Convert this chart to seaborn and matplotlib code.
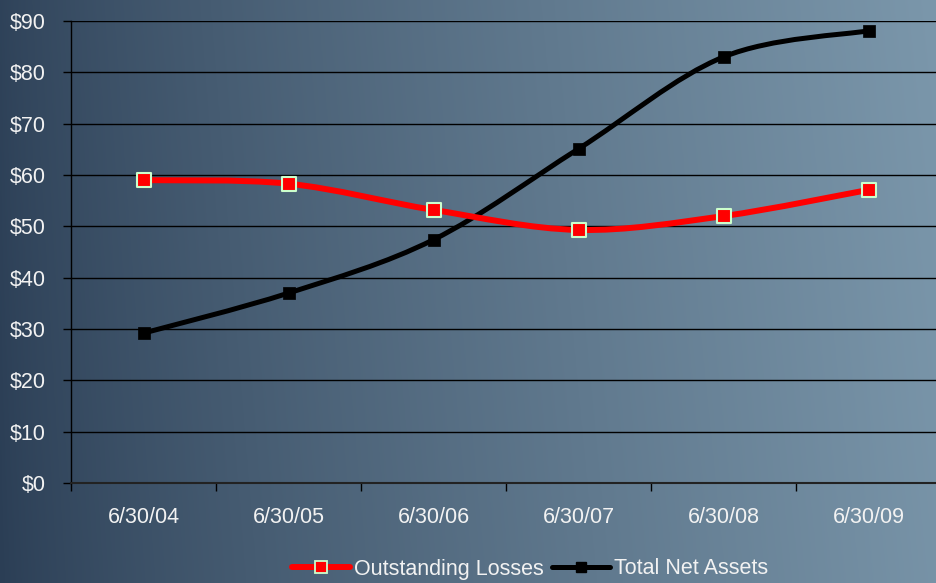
import numpy as np
import pandas as pd
import matplotlib
matplotlib.use("Agg")
import matplotlib.pyplot as plt
import seaborn as sns
from matplotlib.path import Path
from matplotlib.patches import PathPatch
from matplotlib.lines import Line2D
from matplotlib.colors import to_rgb

categories = ["6/30/04", "6/30/05", "6/30/06", "6/30/07", "6/30/08", "6/30/09"]
outstanding_losses = [59.0, 58.3, 53.2, 49.3, 52.0, 57.1]
total_net_assets = [29.2, 37.0, 47.4, 65.1, 83.0, 88.1]
y_ticks = [0, 10, 20, 30, 40, 50, 60, 70, 80, 90]
y_tick_labels = ["$" + str(v) for v in y_ticks]
series_names = ["Outstanding Losses", "Total Net Assets"]

sns.set_theme(style="white")
plt.rcParams["font.family"] = ["Liberation Sans", "DejaVu Sans"]

W, H = 937, 583
fig = plt.figure(figsize=(W / 100, H / 100), dpi=100)

# gradient background
bg = fig.add_axes([0, 0, 1, 1], zorder=-10)
c0 = np.array(to_rgb("#2b3e55"))
c1 = np.array(to_rgb("#7b97ab"))
xs = np.linspace(0, 1, 400)
ys = np.linspace(0, 1, 100)
X, Y = np.meshgrid(xs, ys)
t = np.clip(X ** 0.8 * 0.95 + (1 - Y) * 0.05, 0, 1)
img = c0[None, None, :] * (1 - t[..., None]) + c1[None, None, :] * t[..., None]
bg.imshow(img, aspect="auto", extent=[0, 1, 0, 1], origin="upper")
bg.set_axis_off()

left = 71 / W
right = 941 / W
bottom = 1 - 483 / H
top = 1 - 21 / H
ax = fig.add_axes([left, bottom, right - left, top - bottom])
ax.set_facecolor("none")

x = np.arange(len(categories))


def smooth_path(xv, yv):
    pts = np.column_stack([xv, yv]).astype(float)
    n = len(pts)
    verts = [pts[0]]
    codes = [Path.MOVETO]
    for i in range(n - 1):
        p0 = pts[i - 1] if i > 0 else pts[i]
        p1 = pts[i]
        p2 = pts[i + 1]
        p3 = pts[i + 2] if i + 2 < n else pts[i + 1]
        cp1 = p1 + (p2 - p0) / 6.0
        cp2 = p2 - (p3 - p1) / 6.0
        verts += [cp1, cp2, p2]
        codes += [Path.CURVE4] * 3
    return Path(verts, codes)


# Total Net Assets (black) drawn first, red on top
ax.add_patch(PathPatch(smooth_path(x, total_net_assets), fill=False,
                       edgecolor="black", lw=3.6, capstyle="round",
                       joinstyle="round", zorder=3))
ax.add_patch(PathPatch(smooth_path(x, outstanding_losses), fill=False,
                       edgecolor="#ff0000", lw=4.3, capstyle="round",
                       joinstyle="round", zorder=5))

df_b = pd.DataFrame({"x": x, "y": total_net_assets})
df_r = pd.DataFrame({"x": x, "y": outstanding_losses})
sns.scatterplot(data=df_b, x="x", y="y", ax=ax, marker="s", s=80,
                color="black", edgecolor="black", linewidth=0.5, zorder=4,
                legend=False)
sns.scatterplot(data=df_r, x="x", y="y", ax=ax, marker="s", s=115,
                color="#ff0000", edgecolor="#ccffcc", linewidth=1.5, zorder=6,
                legend=False)

ax.set_xlim(-0.5, len(categories) - 0.5)
ax.set_ylim(0, 90)
ax.set_yticks(y_ticks)
ax.set_yticklabels(y_tick_labels)
ax.set_xticks(x)
ax.set_xticklabels(categories)
ax.set_xticks(np.arange(-0.5, len(categories)), minor=True)
ax.tick_params(axis="x", which="major", length=0, pad=17, labelsize=15.5,
               labelcolor="#f2f2f2")
ax.tick_params(axis="x", which="minor", length=6, width=1, color="black",
               direction="out", bottom=True)
ax.tick_params(axis="y", which="major", length=6, width=1, color="black",
               direction="out", left=True, labelsize=15.5,
               labelcolor="#f2f2f2", pad=12)
ax.set_xlabel("")
ax.set_ylabel("")

ax.grid(False)
for v in y_ticks[1:]:
    ax.axhline(v, color="black", lw=1.0, zorder=1)

for s in ["top", "right"]:
    ax.spines[s].set_visible(False)
ax.spines["left"].set_color("black")
ax.spines["left"].set_linewidth(1.0)
ax.spines["bottom"].set_color("#222222")
ax.spines["bottom"].set_linewidth(1.5)

handles = [
    Line2D([0], [0], color="#ff0000", lw=4.3, marker="s", markersize=8,
           markerfacecolor="#ff0000", markeredgecolor="#ccffcc",
           markeredgewidth=1.3, solid_capstyle="round"),
    Line2D([0], [0], color="black", lw=3.6, marker="s", markersize=7.5,
           markerfacecolor="black", markeredgecolor="black",
           solid_capstyle="round"),
]
leg = fig.legend(handles, series_names, loc="center",
                 bbox_to_anchor=(530 / W, 1 - 569 / H), ncol=2,
                 frameon=False, fontsize=15.5, handlelength=2.7,
                 handletextpad=0.2, columnspacing=0.35, borderpad=0)
for txt in leg.get_texts():
    txt.set_color("#f2f2f2")

fig.savefig("out.png", dpi=100)
